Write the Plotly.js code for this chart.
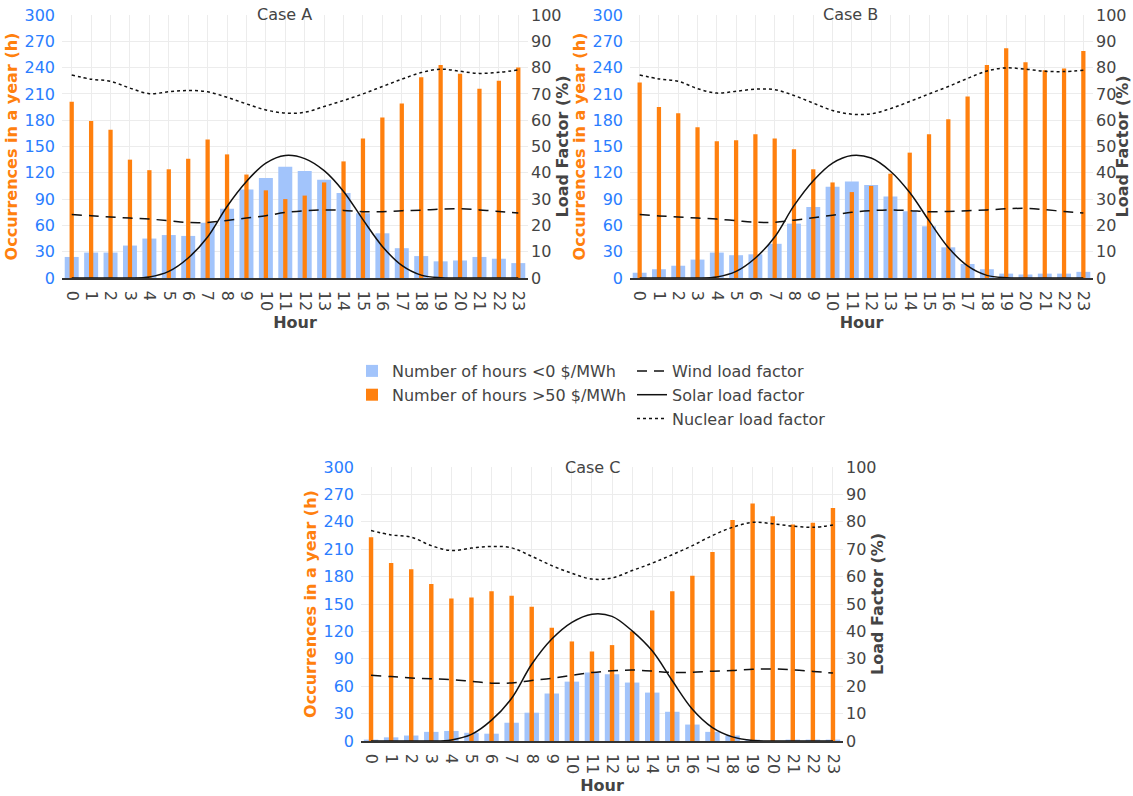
<!DOCTYPE html>
<html>
<head>
<meta charset="utf-8">
<script src="https://cdn.plot.ly/plotly-3.0.1.min.js"></script>
<style>html,body{margin:0;padding:0;background:#fff;}#chart{width:1133px;height:796px;}</style>
</head>
<body>
<div id="chart"></div>
<script>
// ---------- data ----------
const hours = [0,1,2,3,4,5,6,7,8,9,10,11,12,13,14,15,16,17,18,19,20,21,22,23];
const hourLabels = hours.map(String);

const negA  = [24,29,29,37,45,49,48,63,79,101,114,127,122,112,97,74,51,34,25,19,20,24,22,17];
const highA = [201,179,169,135,123,124,136,158,141,118,100,90,94,109,133,159,183,199,229,243,233,216,225,240];
const windA = [24.1,23.7,23.2,22.8,22.4,21.8,21.1,21.1,21.9,22.8,23.7,24.9,25.6,25.9,25.7,25.2,25.2,25.6,25.8,26.2,26.3,25.9,25.3,24.7];
const solarA = [0,0,0,0,0.4,2.5,7.6,15.6,27.2,36.7,43.7,46.6,45.4,40.8,32.9,22.2,12.0,4.8,1.1,0.1,0,0,0,0];
const nuclearA = [77.2,75.6,74.8,72.2,70.1,70.8,71.3,70.8,68.7,66.2,63.9,62.7,63.0,65.2,67.5,70.0,72.8,75.6,78.1,79.4,78.6,77.8,78.2,79.1];

const negB  = [6,10,14,21,29,26,27,39,62,81,104,110,106,93,76,59,35,16,10,5,4,5,5,7];
const highB = [223,195,188,172,156,157,164,159,147,124,109,98,105,119,143,164,181,207,243,262,246,237,239,259];
const windB = [24.1,23.6,23.2,22.8,22.4,21.8,21.2,21.2,22.0,22.9,23.9,25.0,25.6,25.9,25.6,25.2,25.3,25.6,25.9,26.3,26.5,26.0,25.3,24.7];
const solarB = [0,0,0,0,0.4,2.5,7.6,15.6,27.5,37.0,43.7,46.6,45.6,40.6,32.5,21.8,11.6,4.6,1.0,0.1,0,0,0,0];
const nuclearB = [77.2,75.7,74.8,72.0,70.3,71.0,71.8,71.6,69.4,66.5,63.7,62.3,62.4,64.4,67.1,70.0,72.8,75.9,78.7,79.9,79.4,78.6,78.5,79.0];

const negC  = [1.5,4,6,10,11,9,8,20,31,52,65,75,73,64,53,32,18,10,6,1.5,0,1.5,1.5,1.5];
const highC = [223,195,188,172,156,157,164,159,147,124,109,98,105,120,143,164,181,207,242,260,246,237,239,255];
const windC = [24.0,23.5,23.0,22.7,22.4,21.8,21.1,21.2,22.1,22.9,24.0,25.0,25.6,25.9,25.5,25.0,25.1,25.5,25.7,26.2,26.3,26.0,25.4,24.8];
const solarC = [0,0,0,0,0.4,2.4,7.6,15.6,28.0,37.2,43.3,46.3,45.5,40.2,32.9,22.0,11.6,4.9,1.5,0.2,0,0,0,0];
const nuclearC = [76.8,75.2,74.4,71.3,69.5,70.4,71.0,70.5,67.4,64.0,61.2,59.1,59.5,62.2,64.9,68.0,71.3,75.0,78.0,79.8,79.3,78.4,78.0,78.8];

const caseTitles = ["Case A","Case B","Case C"];
const seriesNames = ["Number of hours <0 $/MWh","Number of hours >50 $/MWh","Wind load factor","Solar load factor","Nuclear load factor"];
const leftTitle = "Occurrences in a year (h)";
const rightTitle = "Load Factor (%)";
const xTitle = "Hour";

// ---------- styling ----------
const W = 1133, H = 796;
const FONT = "DejaVu Sans";
const BLUE_BAR = "#a2c4fb";
const ORANGE = "#ff800e";
const BLUE_TXT = "#2a7dff";
const GRAY = "#444";
const px = v => v / W;
const py = v => 1 - v / H;

const panels = [
  {neg:negA, high:highA, wind:windA, solar:solarA, nuc:nuclearA, x:"x",  yl:"y",  yr:"y2", xd:[62,528],  yd:[15,278],  tx:284, ty:15,  rt:562},
  {neg:negB, high:highB, wind:windB, solar:solarB, nuc:nuclearB, x:"x2", yl:"y3", yr:"y4", xd:[630,1093], yd:[15,278], tx:850, ty:15,  rt:1122},
  {neg:negC, high:highC, wind:windC, solar:solarC, nuc:nuclearC, x:"x3", yl:"y5", yr:"y6", xd:[361,843], yd:[467,741], tx:592, ty:467, rt:877}
];

const traces = [];
panels.forEach((p, i) => {
  const first = i === 0;
  traces.push({type:"bar", x:hours, y:p.neg, xaxis:p.x, yaxis:p.yl, name:seriesNames[0],
    marker:{color:BLUE_BAR}, width:0.72, showlegend:first, legend:"legend", hoverinfo:"skip"});
  traces.push({type:"bar", x:hours, y:p.high, xaxis:p.x, yaxis:p.yl, name:seriesNames[1],
    marker:{color:ORANGE}, width:0.22, showlegend:first, legend:"legend", hoverinfo:"skip"});
  traces.push({type:"scatter", mode:"lines", x:hours, y:p.wind, xaxis:p.x, yaxis:p.yr, name:seriesNames[2],
    line:{color:"#111", width:1.5, dash:"10px,7px", shape:"spline"}, showlegend:first, legend:"legend2", hoverinfo:"skip"});
  traces.push({type:"scatter", mode:"lines", x:hours, y:p.solar, xaxis:p.x, yaxis:p.yr, name:seriesNames[3],
    line:{color:"#111", width:1.5, shape:"spline"}, showlegend:first, legend:"legend2", hoverinfo:"skip"});
  traces.push({type:"scatter", mode:"lines", x:hours, y:p.nuc, xaxis:p.x, yaxis:p.yr, name:seriesNames[4],
    line:{color:"#111", width:1.5, dash:"dot", shape:"spline"}, showlegend:first, legend:"legend2", hoverinfo:"skip"});
});

const layout = {
  width:W, height:H,
  margin:{l:0,r:0,t:0,b:0},
  paper_bgcolor:"#fff", plot_bgcolor:"#fff",
  font:{family:FONT, size:16, color:GRAY},
  barmode:"overlay",
  showlegend:true,
  legend:{x:px(352), y:py(354), xanchor:"left", yanchor:"top", orientation:"v",
          font:{family:FONT, size:16, color:GRAY}, bgcolor:"rgba(0,0,0,0)", traceorder:"normal"},
  legend2:{x:px(632), y:py(354), xanchor:"left", yanchor:"top", orientation:"v",
          font:{family:FONT, size:16, color:GRAY}, bgcolor:"rgba(0,0,0,0)", traceorder:"normal"},
  annotations:[],
};

panels.forEach((p, i) => {
  const xn = i === 0 ? "xaxis" : "xaxis" + (i + 1);
  const yln = i === 0 ? "yaxis" : "yaxis" + (2 * i + 1);
  const yrn = "yaxis" + (2 * i + 2);
  layout[xn] = {
    domain:[px(p.xd[0]), px(p.xd[1])], anchor:p.yl,
    range:[-0.5, 23.5], tickmode:"array", tickvals:hours, ticktext:hourLabels,
    tickangle:90, showgrid:true, gridcolor:"#ececec", zeroline:false,
    showline:true, linecolor:"#333", linewidth:1.5,
    tickfont:{family:FONT, size:16, color:GRAY}, ticklabelstandoff:8,
    title:{text:"<b>" + xTitle + "</b>", font:{family:FONT, size:16, color:GRAY}, standoff:6},
    fixedrange:true
  };
  layout[yln] = {
    domain:[py(p.yd[1]), py(p.yd[0])], anchor:p.x,
    range:[0, 300], tickmode:"linear", tick0:0, dtick:30,
    showgrid:true, gridcolor:"#ececec", zeroline:false, showline:false,
    tickfont:{family:FONT, size:16, color:BLUE_TXT}, ticklabelstandoff:6,
    title:{text:"<b>" + leftTitle + "</b>", font:{family:FONT, size:16, color:ORANGE}, standoff:2},
    fixedrange:true
  };
  layout[yrn] = {
    overlaying:p.yl, side:"right", anchor:p.x,
    range:[0, 100], tickmode:"linear", tick0:0, dtick:10,
    showgrid:false, zeroline:false, showline:false,
    tickfont:{family:FONT, size:16, color:GRAY}, ticklabelstandoff:2,
    fixedrange:true
  };
  layout.annotations.push({text:caseTitles[i], xref:"paper", yref:"paper", x:px(p.tx), y:py(p.ty),
    xanchor:"center", yanchor:"middle", showarrow:false, font:{family:FONT, size:16, color:GRAY}});
  layout.annotations.push({text:"<b>" + rightTitle + "</b>", xref:"paper", yref:"paper", x:px(p.rt), y:py((p.yd[0] + p.yd[1]) / 2),
    xanchor:"center", yanchor:"middle", textangle:-90, showarrow:false, font:{family:FONT, size:16, color:GRAY}});
});

Plotly.newPlot("chart", traces, layout, {staticPlot:true, displayModeBar:false});
</script>
</body>
</html>
